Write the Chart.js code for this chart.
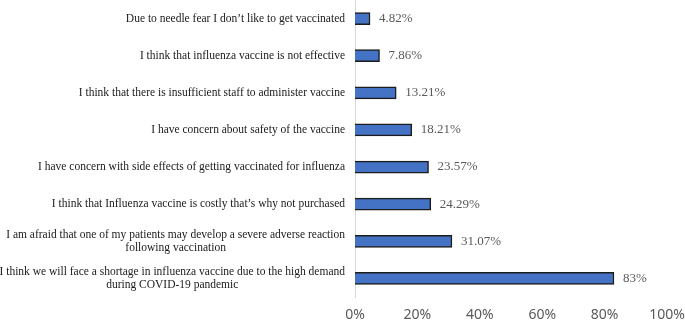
<!DOCTYPE html>
<html>
<head>
<meta charset="utf-8">
<script src="https://cdn.jsdelivr.net/npm/chart.js@4"></script>
<style>
  body { margin: 0; background: #fff; }
  #wrap { width: 685px; height: 321px; }
</style>
</head>
<body>
<div id="wrap"><canvas id="barrierChart"></canvas></div>
<script>
// Reasons, top to bottom
const categories = [
  "Due to needle fear I don’t like to get vaccinated",
  "I think that influenza vaccine is not effective",
  "I think that there is insufficient staff to administer vaccine",
  "I have concern about safety of the vaccine",
  "I have concern with side effects of getting vaccinated for influenza",
  "I think that Influenza vaccine is costly that’s why not purchased",
  ["I am afraid that one of my patients may develop a severe adverse reaction", "following vaccination"],
  ["I think we will face a shortage in influenza vaccine due to the high demand", "during COVID-19 pandemic"]
];
const percentValues = [4.82, 7.86, 13.21, 18.21, 23.57, 24.29, 31.07, 83];
const valueLabels = ["4.82%", "7.86%", "13.21%", "18.21%", "23.57%", "24.29%", "31.07%", "83%"];
const xTicks = [0, 20, 40, 60, 80, 100];

// category labels: each block right-aligned, lines centred inside it
const categoryLabels = {
  id: "categoryLabels",
  afterDraw(chart) {
    const ctx = chart.ctx;
    const yScale = chart.scales.y;
    const right = chart.chartArea.left - 10;
    ctx.save();
    ctx.font = "11.5px 'Liberation Serif'";
    ctx.fillStyle = "#1a1a1a";
    ctx.textAlign = "center";
    ctx.textBaseline = "middle";
    chart.data.labels.forEach((label, i) => {
      const lines = Array.isArray(label) ? label : [label];
      const w = Math.max(...lines.map(l => ctx.measureText(l).width));
      const cx = right - w / 2;
      const y = yScale.getPixelForValue(i);
      lines.forEach((line, j) => {
        ctx.fillText(line, cx, y + (j - (lines.length - 1) / 2) * 13.5);
      });
    });
    ctx.restore();
  }
};

// value labels at the end of each bar
const valueLabelPlugin = {
  id: "valueLabels",
  afterDatasetsDraw(chart) {
    const ctx = chart.ctx;
    const meta = chart.getDatasetMeta(0);
    ctx.save();
    ctx.font = "13px 'Liberation Serif'";
    ctx.fillStyle = "#595959";
    ctx.textAlign = "left";
    ctx.textBaseline = "middle";
    meta.data.forEach((bar, i) => {
      ctx.fillText(valueLabels[i], bar.x + 9, bar.y);
    });
    ctx.restore();
  }
};

const ctx = document.getElementById("barrierChart");
new Chart(ctx, {
  type: "bar",
  data: {
    labels: categories,
    datasets: [{
      data: percentValues,
      backgroundColor: "#4472C4",
      borderColor: "#1c1c1c",
      borderWidth: 1.5,
      barThickness: 12
    }]
  },
  options: {
    indexAxis: "y",
    responsive: true,
    maintainAspectRatio: false,
    animation: false,
    layout: { padding: 0 },
    plugins: {
      legend: { display: false },
      tooltip: { enabled: false }
    },
    scales: {
      x: {
        min: 0,
        max: 100,
        afterBuildTicks: (scale) => { scale.ticks = xTicks.map(v => ({ value: v })); },
        grid: { display: false, drawTicks: false },
        border: { display: false },
        ticks: {
          padding: 10,
          color: "#595959",
          maxRotation: 0,
          font: { family: "'Noto Sans'", size: 14 },
          callback: (v) => v + "%"
        },
        afterFit: (scale) => {
          scale.height = 24;
          scale.paddingRight = 18;
        }
      },
      y: {
        grid: { display: false },
        border: { display: true, color: "#d9d9d9", width: 1 },
        ticks: { display: false },
        afterFit: (scale) => { scale.width = 355; }
      }
    }
  },
  plugins: [categoryLabels, valueLabelPlugin]
});
</script>
</body>
</html>
